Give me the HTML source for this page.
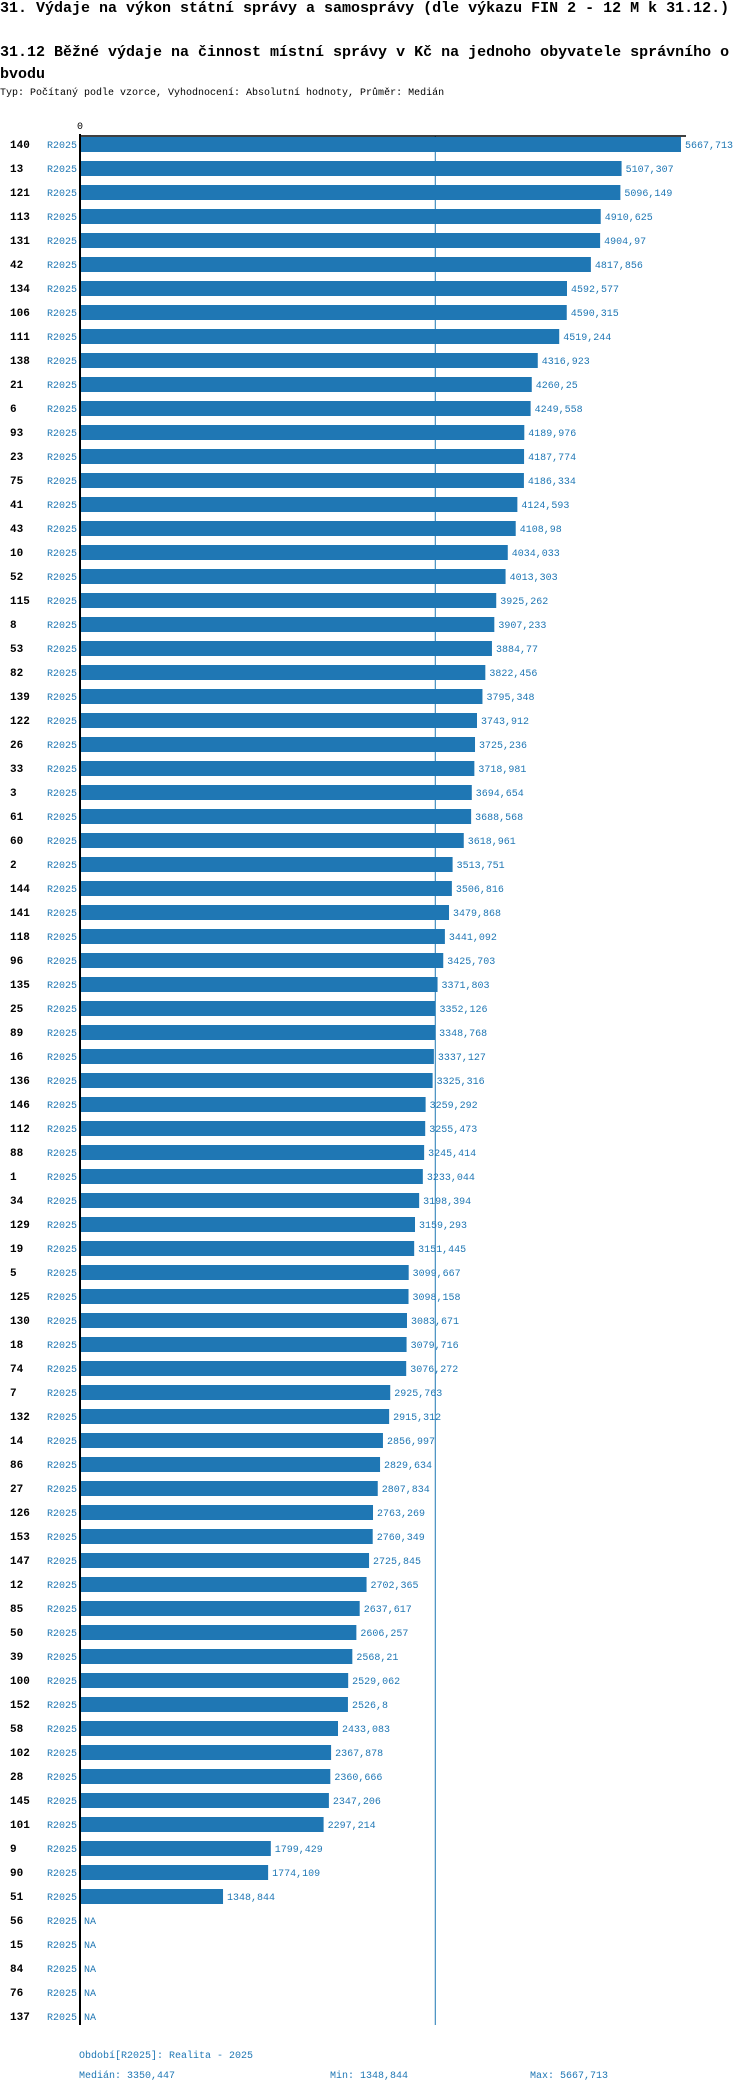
<!DOCTYPE html>
<html><head><meta charset="utf-8">
<style>
html,body{margin:0;padding:0;background:#fff;}
body{width:750px;height:2092px;overflow:hidden;position:relative;font-family:"Liberation Mono",monospace;}
.t{position:absolute;left:0;white-space:nowrap;color:#000;}
</style></head><body>
<div class="t" style="top:0px;font-size:15px;font-weight:bold;line-height:18px;">31. Výdaje na výkon státní správy a samosprávy (dle výkazu FIN 2 - 12 M k 31.12.)</div>
<div class="t" style="top:42px;font-size:15px;font-weight:bold;line-height:22px;white-space:normal;width:750px;">31.12 Běžné výdaje na činnost místní správy v Kč na jednoho obyvatele správního o<br>bvodu</div>
<div class="t" style="top:87px;font-size:10px;line-height:13px;">Typ: Počítaný podle vzorce, Vyhodnocení: Absolutní hodnoty, Průměr: Medián</div>
<svg id="chart" width="750" height="2092" style="position:absolute;left:0;top:0" xmlns="http://www.w3.org/2000/svg"></svg>
<script>
const categories=["140","13","121","113","131","42","134","106","111","138","21","6","93","23","75","41","43","10","52","115","8","53","82","139","122","26","33","3","61","60","2","144","141","118","96","135","25","89","16","136","146","112","88","1","34","129","19","5","125","130","18","74","7","132","14","86","27","126","153","147","12","85","50","39","100","152","58","102","28","145","101","9","90","51","56","15","84","76","137"];
const values=[5667.713,5107.307,5096.149,4910.625,4904.97,4817.856,4592.577,4590.315,4519.244,4316.923,4260.25,4249.558,4189.976,4187.774,4186.334,4124.593,4108.98,4034.033,4013.303,3925.262,3907.233,3884.77,3822.456,3795.348,3743.912,3725.236,3718.981,3694.654,3688.568,3618.961,3513.751,3506.816,3479.868,3441.092,3425.703,3371.803,3352.126,3348.768,3337.127,3325.316,3259.292,3255.473,3245.414,3233.044,3198.394,3159.293,3151.445,3099.667,3098.158,3083.671,3079.716,3076.272,2925.763,2915.312,2856.997,2829.634,2807.834,2763.269,2760.349,2725.845,2702.365,2637.617,2606.257,2568.21,2529.062,2526.8,2433.083,2367.878,2360.666,2347.206,2297.214,1799.429,1774.109,1348.844,null,null,null,null,null];
const period="R2025";
const medianValue=3350.447;
const minValue=1348.844;
const maxValue=5667.713;

const svg=document.getElementById('chart');
const NS="http://www.w3.org/2000/svg";
const x0=80, xMax=681, top0=137, pitch=24, barH=15;
function xs(v){return x0+v*(xMax-x0)/maxValue;}
function ys(i){return top0+i*pitch;}
function fmt(v){return String(v).replace('.',',');}
function mk(tag,attrs,txt){const e=document.createElementNS(NS,tag);for(const k in attrs)e.setAttribute(k,attrs[k]);if(txt!==undefined)e.textContent=txt;svg.appendChild(e);return e;}
const blue="#1f77b4";
const axisBottom=ys(categories.length-1)+barH+1;

let e=mk('line',{x1:xs(medianValue),x2:xs(medianValue),y1:136,y2:axisBottom,stroke:blue,'stroke-width':1});



categories.forEach((c,i)=>{
  const y=ys(i);
  const cy=y+barH/2+3.5;
  let l=mk('text',{x:10,y:cy,'font-size':11,'font-weight':'bold','font-family':'Liberation Mono, monospace',fill:'#000'},c);
  
  
  let p=mk('text',{x:77,y:cy,'font-size':10,'text-anchor':'end','font-family':'Liberation Mono, monospace',fill:blue},period);
  
  
  const v=values[i];
  if(v!==null){
    let r=mk('rect',{x:x0,y:y,width:xs(v)-x0,height:barH,fill:blue});
    
    
    let t=mk('text',{x:xs(v)+4,y:cy,'font-size':10,'font-family':'Liberation Mono, monospace',fill:blue},fmt(v));
    
    
  } else {
    let t=mk('text',{x:x0+4,y:cy,'font-size':10,'font-family':'Liberation Mono, monospace',fill:blue},'NA');
    
    
  }
});

let a=mk('line',{x1:x0,x2:x0,y1:134,y2:axisBottom,stroke:'#000','stroke-width':2});


let a2=mk('line',{x1:x0-1,x2:686,y1:136,y2:136,stroke:'#000','stroke-width':1.5});


let z=mk('text',{x:x0,y:129,'font-size':10,'text-anchor':'middle','font-family':'Liberation Mono, monospace',fill:'#000'},'0');



let f1=mk('text',{x:79,y:2058,'font-size':10,'font-family':'Liberation Mono, monospace',fill:blue},'Období['+period+']: Realita - 2025');


let f2=mk('text',{x:79,y:2078,'font-size':10,'font-family':'Liberation Mono, monospace',fill:blue},'Medián: '+fmt(medianValue));


let f3=mk('text',{x:330,y:2078,'font-size':10,'font-family':'Liberation Mono, monospace',fill:blue},'Min: '+fmt(minValue));


let f4=mk('text',{x:530,y:2078,'font-size':10,'font-family':'Liberation Mono, monospace',fill:blue},'Max: '+fmt(maxValue));


</script>
</body></html>
